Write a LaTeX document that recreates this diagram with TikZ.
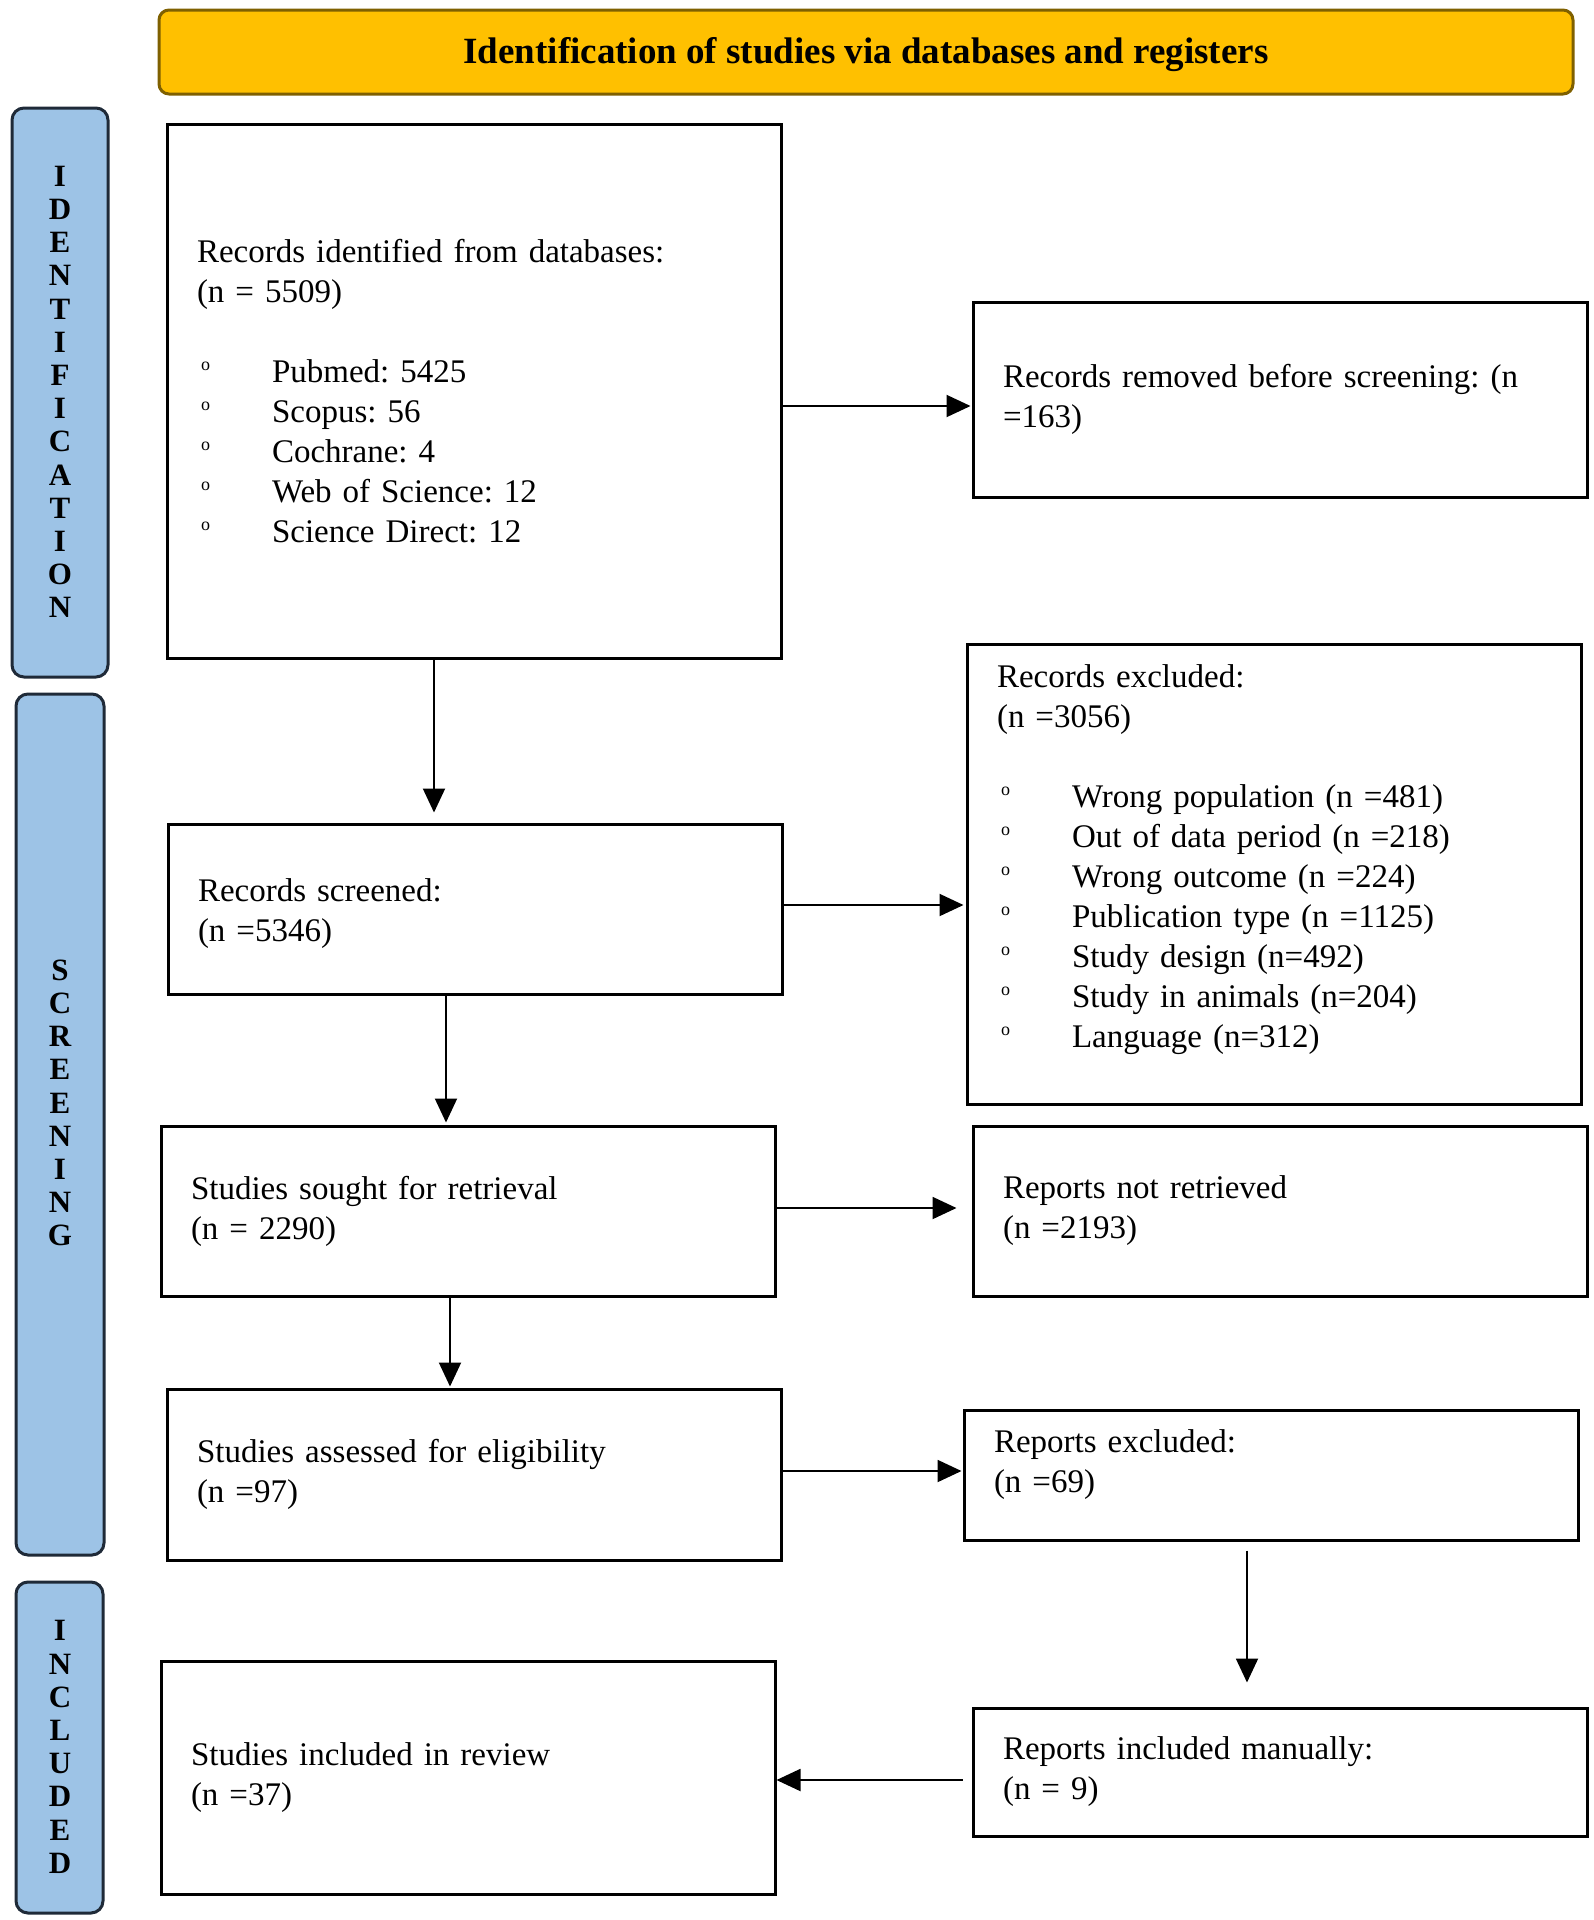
\documentclass[tikz,border=0pt]{standalone}
\usepackage{fontspec}
\setmainfont{Liberation Serif}
\usetikzlibrary{arrows.meta}
\definecolor{hdrfill}{HTML}{FFC000}
\definecolor{hdrdraw}{HTML}{7F6000}
\definecolor{barfill}{HTML}{9DC3E6}
\definecolor{bardraw}{HTML}{1F2A38}
\newcommand{\bul}{\makebox[75pt][l]{\hspace{4pt}\raisebox{12pt}{\fontsize{18}{18}\selectfont o}}}
\frenchspacing
\begin{document}
\begin{tikzpicture}[x=1pt,y=-1pt,
  box/.style={draw=black, line width=3pt, fill=white, align=left, inner xsep=30pt, inner ysep=0pt,
    text width=554pt, font=\fontsize{33}{40}\selectfont},
  txt/.style={align=left, inner xsep=30pt, inner ysep=0pt, text width=554pt, font=\fontsize{33}{40}\selectfont},
  hdr/.style={draw=hdrdraw, line width=3pt, fill=hdrfill, rounded corners=10pt, minimum width=1414pt,
    minimum height=84pt},
  hdrtext/.style={inner sep=0pt, font=\fontsize{37}{40}\selectfont\bfseries},
  phase/.style={draw=bardraw, line width=3pt, fill=barfill, rounded corners=12pt},
  letters/.style={align=center, inner sep=0pt, font=\fontsize{31}{33.2}\selectfont\bfseries},
  arr/.style={draw=black, line width=2pt, -{Triangle[length=24pt,width=22pt]}}
]
\useasboundingbox (0,0) rectangle (1594,1920);

% header
\node[hdr] (header) at (866,52) {};
\node[hdrtext] (headertxt) at (866,55) {Identification of studies via databases and registers};

% phase bars
\node[phase, minimum width=96pt, minimum height=569pt] (idbar) at (60,392.5) {};
\node[phase, minimum width=88pt, minimum height=861pt] (scbar) at (60,1124.5) {};
\node[phase, minimum width=87pt, minimum height=331pt] (inbar) at (59.5,1747.5) {};
\node[letters] (idtxt) at (60,392) {I\\D\\E\\N\\T\\I\\F\\I\\C\\A\\T\\I\\O\\N};
\node[letters] (sctxt) at (60,1103) {S\\C\\R\\E\\E\\N\\I\\N\\G};
\node[letters] (intxt) at (60,1747) {I\\N\\C\\L\\U\\D\\E\\D};

% boxes
\node[box, minimum height=534pt] (ident) at (474,391) {Records identified from databases:\\
(n = 5509)\\[40pt]
\bul Pubmed: 5425\\
\bul Scopus: 56\\
\bul Cochrane: 4\\
\bul Web of Science: 12\\
\bul Science Direct: 12};

\node[box, minimum height=195pt] (removed) at (1280,399.5) {Records removed before screening: (n\\=163)};

\node[box, minimum height=460pt] (excluded) at (1274,874) {};
\node[txt] (excludedtxt) at (1274,860) {Records excluded:\\
(n =3056)\\[40pt]
\bul Wrong population (n =481)\\
\bul Out of data period (n =218)\\
\bul Wrong outcome (n =224)\\
\bul Publication type (n =1125)\\
\bul Study design (n=492)\\
\bul Study in animals (n=204)\\
\bul Language (n=312)};

\node[box, minimum height=170pt] (screened) at (475,909) {};
\node[txt] (screenedtxt) at (475,914) {Records screened:\\(n =5346)};
\node[box, minimum height=170pt] (sought) at (468,1211) {Studies sought for retrieval\\(n = 2290)};
\node[box, minimum height=170pt] (notretr) at (1280,1211) {Reports not retrieved\\(n =2193)};
\node[box, minimum height=171pt] (assessed) at (474,1474.5) {Studies assessed for eligibility\\(n =97)};
\node[box, minimum height=130pt] (repexcl) at (1271,1475) {};
\node[txt] (repexcltxt) at (1271,1465) {Reports excluded:\\(n =69)};
\node[box, minimum height=128pt] (manual) at (1280,1772) {Reports included manually:\\(n = 9)};
\node[box, minimum height=233pt] (included) at (468,1777.5) {Studies included in review\\(n =37)};

% connectors
\draw[arr, shorten >=1pt] (ident.east |- 0,406) -- (removed.west |- 0,406);
\draw[arr, shorten >=10pt] (ident.south -| 434,0) -- (screened.north -| 434,0);
\draw[arr, shorten >=2pt] (screened.east |- 0,905) -- (excluded.west |- 0,905);
\draw[arr, shorten >=2pt] (screened.south -| 446,0) -- (sought.north -| 446,0);
\draw[arr, shorten >=15pt] (sought.east |- 0,1208) -- (notretr.west |- 0,1208);
\draw[arr, shorten >=1pt] (sought.south -| 450,0) -- (assessed.north -| 450,0);
\draw[arr, shorten >=1pt] (assessed.east |- 0,1471) -- (repexcl.west |- 0,1471);
\draw[arr, shorten <=9pt, shorten >=24pt] (repexcl.south -| 1247,0) -- (manual.north -| 1247,0);
\draw[arr, shorten <=9pt] (manual.west |- 0,1780) -- (included.east |- 0,1780);
\end{tikzpicture}
\end{document}
